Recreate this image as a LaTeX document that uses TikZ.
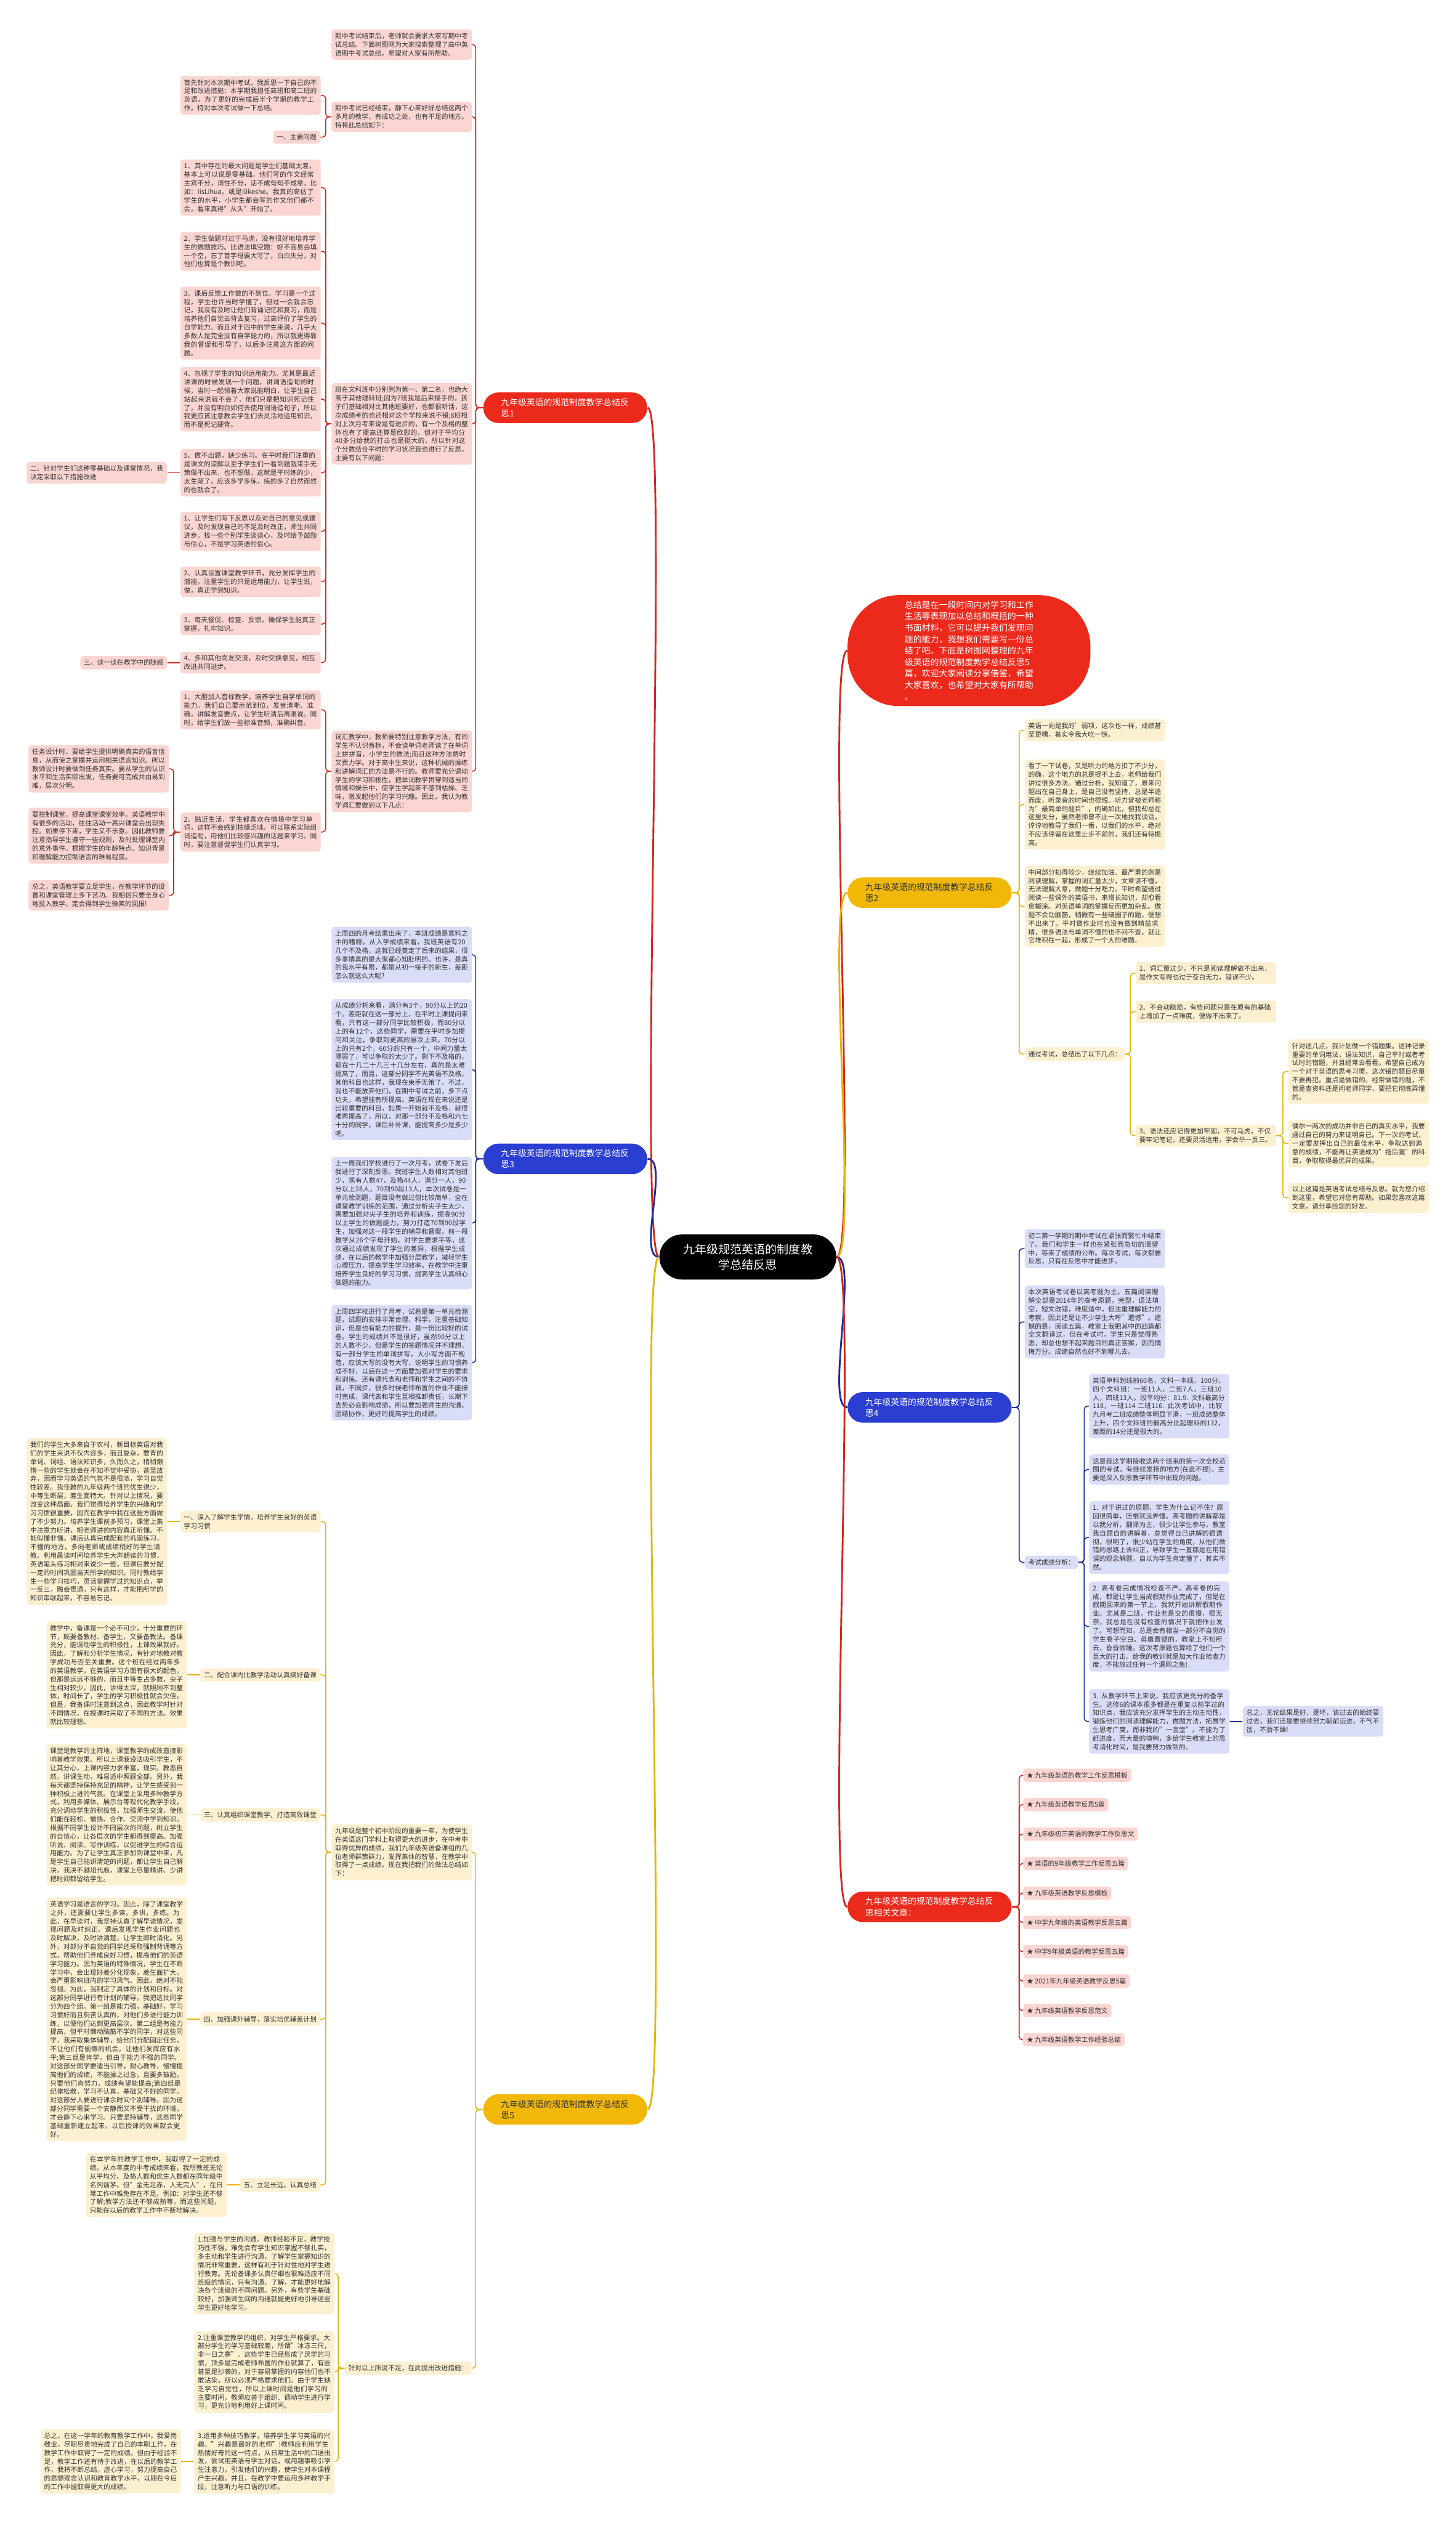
\documentclass[tikz,border=0pt]{standalone}
\usepackage{fontspec}
\setmainfont{Noto Sans CJK SC}
\XeTeXlinebreaklocale "zh"
\XeTeXlinebreakskip=0pt plus 0.6pt
\newcommand\zbox{\fontsize{4.12pt}{5.3pt}\selectfont}
\newcommand\zbr{\fontsize{5.3pt}{6.9pt}\selectfont}
\newcommand\zcen{\fontsize{7.3pt}{9.6pt}\selectfont}
\newcommand\zintro{\fontsize{5.33pt}{7.13pt}\selectfont}
\definecolor{pkf}{HTML}{FAD5D2}
\definecolor{rln}{HTML}{D0281C}
\definecolor{redf}{HTML}{EC2A1C}
\definecolor{ywf}{HTML}{FCF0D1}
\definecolor{yln}{HTML}{E8B40C}
\definecolor{yelf}{HTML}{F2B807}
\definecolor{blf}{HTML}{DADDF8}
\definecolor{bln}{HTML}{1E2C9C}
\definecolor{bluef}{HTML}{2A3ED2}
\definecolor{txtc}{HTML}{333333}
\tikzset{
  bx/.style={inner xsep=2.2pt, inner ysep=2.2pt, rounded corners=1.8pt, font=\zbox, text=txtc, align=left},
  wd/.style={text width=82.8pt},
  pk/.style={bx, fill=pkf},
  yw/.style={bx, fill=ywf},
  bl/.style={bx, fill=blf},
  br/.style={rounded corners=9.5pt, minimum height=19pt, text width=80pt, inner xsep=11pt, inner ysep=2.5pt, font=\zbr, align=left},
  cen/.style={fill=black, text=white, rounded corners=14pt, minimum width=110pt, minimum height=28pt, inner ysep=2pt, font=\zcen, align=center},
  intro/.style={fill=redf, text=white, rounded corners=32pt, minimum width=151pt, minimum height=69pt, font=\zintro, align=left},
  lr/.style={draw=rln, line width=0.6pt, rounded corners=2pt},
  ly/.style={draw=yln, line width=0.6pt, rounded corners=2pt},
  lb/.style={draw=bln, line width=0.6pt, rounded corners=2pt},
  mr/.style={draw=rln, line width=1.1pt},
  my/.style={draw=yln, line width=1.1pt},
  mb/.style={draw=bln, line width=1.1pt}
}
\begin{document}
\begin{tikzpicture}[x=1pt,y=-1pt]
\fill[white] (0,0) rectangle (905,1568.6);
\useasboundingbox (0,0) rectangle (905,1568.6);

% ---------------- centre and main branches
\node[cen] (C) at (465,781.5) {\zcen 九年级规范英语的制度教\\\zcen 学总结反思};
\node[intro] (I) at (602.5,404.5) {\zintro 总结是在一段时间内对学习和工作\\生活等表现加以总结和概括的一种\\书面材料，它可以提升我们发现问\\题的能力，我想我们需要写一份总\\结了吧。下面是树图网整理的九年\\级英语的规范制度教学总结反思5\\篇，欢迎大家阅读分享借鉴，希望\\大家喜欢，也希望对大家有所帮助\\。};
\node[br, fill=redf, text=white] (B1) at (351.5,253.5) {九年级英语的规范制度教学总结反\\思1};
\node[br, fill=yelf, text=txtc] (B2) at (578,555) {九年级英语的规范制度教学总结反\\思2};
\node[br, fill=bluef, text=white] (B3) at (351.5,720.5) {九年级英语的规范制度教学总结反\\思3};
\node[br, fill=bluef, text=white] (B4) at (578,875) {九年级英语的规范制度教学总结反\\思4};
\node[br, fill=redf, text=white] (B5) at (578,1185.5) {九年级英语的规范制度教学总结反\\思相关文章：};
\node[br, fill=yelf, text=txtc] (B6) at (351.5,1311.5) {九年级英语的规范制度教学总结反\\思5};

\draw[mr] (C.west) .. controls +(-14,0) and +(14,0) .. (B1.east);
\draw[mb] (C.west) .. controls +(-14,0) and +(14,0) .. (B3.east);
\draw[my] (C.west) .. controls +(-14,0) and +(14,0) .. (B6.east);
\draw[mr] (C.east) .. controls +(14,0) and +(-14,0) .. (I.west);
\draw[my] (C.east) .. controls +(14,0) and +(-14,0) .. (B2.west);
\draw[mb] (C.east) .. controls +(14,0) and +(-14,0) .. (B4.west);
\draw[mr] (C.east) .. controls +(14,0) and +(-14,0) .. (B5.west);

% ---------------- branch 1
\node[pk,wd,anchor=north west] (c1) at (206,18) {期中考试结束后，老师就会要求大家写期中考试总结。下面树图网为大家搜索整理了高中英语期中考试总结，希望对大家有所帮助。};
\node[pk,wd,anchor=north west] (c2) at (206,63) {期中考试已经结束，静下心来好好总结这两个多月的教学，有成功之处，也有不足的地方。特将此总结如下：};
\node[pk,wd,anchor=north west] (c3) at (206,238) {班在文科班中分别列为第一、第二名，也绝大高于其他理科班;因为7班我是后来接手的，孩子们基础相对比其他班要好，也都很听话，这次成绩考的也还相对这个学校来说不错;8班相对上次月考来说是有进步的，有一个及格的整体也有了提高还算是欣慰的。但对于平均分40多分给我的打击也是挺大的，所以针对这个分数结合平时的学习状况我也进行了反思，主要有以下问题：};
\node[pk,wd,anchor=north west] (c4) at (206,454) {词汇教学中，教师要特别注意教学方法，有的学生不认识音标，不会读单词老师读了在单词上拼拼音，小学生的做法;而且这种方法费时又费力学。对于高中生来说，这种机械的操练和讲解词汇的方法是不行的。教师要充分调动学生的学习积极性，把单词教学贯穿到适当的情境和娱乐中，使学生学起来不感到枯燥、乏味，激发起他们的学习兴趣。因此，我认为教学词汇要做到以下几点：};
\node[pk,wd,anchor=north west] (c2a) at (112,47) {首先针对本次期中考试，我反思一下自己的不足和改进措施：本学期我担任高班和高二班的英语，为了更好的完成后半个学期的教学工作，特对本次考试做一下总结。};
\node[pk,anchor=north east] (c2b) at (199.2,81) {一、主要问题};
\node[pk,wd,anchor=north west] (i1) at (112,99) {1、其中存在的最大问题是学生们基础太差，基本上可以说是零基础。他们写的作文经常主宾不分，词性不分，话不成句句不成章，比如：IisLihua。或是Ilikeshe。我真的高估了学生的水平，小学生都会写的作文他们都不会，看来真得"从头"开始了。};
\node[pk,wd,anchor=north west] (i2) at (112,144) {2、学生做题时过于马虎，没有很好地培养学生的做题技巧。比语法填空题：好不容易会填一个空，忘了首字母要大写了，白白失分，对他们也算是个教训吧。};
\node[pk,wd,anchor=north west] (i3) at (112,178) {3、课后反馈工作做的不到位。学习是一个过程，学生也许当时学懂了，但过一会就会忘记，我没有及时让他们背诵记忆和复习，而是培养他们自觉去背去复习，过高评价了学生的自学能力。而且对于四中的学生来说，几乎大多数人是完全没有自学能力的，所以就更得靠我的督促和引导了，以后多注意这方面的问题。};
\node[pk,wd,anchor=north west] (i4) at (112,228) {4、忽视了学生的知识运用能力。尤其是最近讲课的时候发现一个问题，讲词语造句的时候，当时一起领着大家说能明白，让学生自己站起来说就不会了，他们只是把知识死记住了，并没有明白如何去使用词语造句子，所以我更应该注意教会学生们去灵活地运用知识，而不是死记硬背。};
\node[pk,wd,anchor=north west] (i5) at (112,279) {5、做不出题，缺少练习。在平时我们注重的是课文的谅解以至于学生们一看到题就束手无策做不出来，也不想做，这就是平时练的少，太生疏了，应该多学多练，练的多了自然而然的也就会了。};
\node[pk,wd,anchor=north west] (m1) at (112,318) {1、让学生们写下反思以及对自己的意见或建议，及时发现自己的不足及时改正，师生共同进步。找一些个别学生谈谈心，及时给予鼓励与信心，不是学习英语的信心。};
\node[pk,wd,anchor=north west] (m2) at (112,352) {2、认真设置课堂教学环节，充分发挥学生的潜能。注重学生的只是运用能力，让学生说，做，真正学到知识。};
\node[pk,wd,anchor=north west] (m3) at (112,381) {3、每天督促、检查、反馈。确保学生能真正掌握，扎牢知识。};
\node[pk,wd,anchor=north west] (m4) at (112,405) {4、多和其他岗友交流，及时交换意见，相互改进共同进步。};
\node[pk,wd,anchor=east] (er) at ([xshift=-8pt]i5.west) {二、针对学生们这种零基础以及课堂情况，我决定采取以下措施改进};
\node[pk,anchor=east] (san) at ([xshift=-8pt]m4.west) {三、谈一谈在教学中的随感};
\node[pk,wd,anchor=north west] (v1) at (112,429) {1、大胆加入音标教学，培养学生自学单词的能力。我们自己要示范到位，发音清晰、准确，讲解发音要点，让学生听清后再跟说。同时，给学生们放一些标准音频，准确纠音。};
\node[pk,wd,anchor=north west] (v2) at (112,505) {2、贴近生活，学生都喜欢在情境中学习单词，这样不会感到枯燥乏味。可以联系实际组词造句，用他们比较感兴趣的话题来学习。同时，要注意督促学生们认真学习。};
\node[pk,wd,anchor=north west] (t1) at (17.6,463) {任务设计时，要给学生提供明确真实的语言信息，从而使之掌握并运用相关语言知识。所以教师设计时要做到任务真实。要从学生的认识水平和生活实际出发，任务要可完成并由易到难，层次分明。};
\node[pk,wd,anchor=north west] (t2) at (17.6,502) {要控制课堂，提高课堂课堂效率。英语教学中有很多的活动，往往活动一高兴课堂会出现失控。如果停下来，学生又不乐意。因此教师要注意指导学生遵守一些规则，及时处理课堂内的意外事件。根据学生的年龄特点、知识背景和理解能力控制语言的难易程度。};
\node[pk,wd,anchor=north west] (t3) at (17.6,547) {总之，英语教学要立足学生，在教学环节的设置和课堂管理上多下苦功。我相信只要全身心地投入教学，定会得到学生微笑的回报!};

\foreach \n in {c1,c2,c3,c4} \draw[lr] (B1.west) -- ++(-4.5,0) |- (\n.east);
\foreach \n in {c2a,c2b} \draw[lr] (c2.west) -- ++(-3.5,0) |- (\n.east);
\foreach \n in {i1,i2,i3,i4,i5,m1,m2,m3,m4} \draw[lr] (c3.west) -- ++(-3.5,0) |- (\n.east);
\draw[lr] (i5.west) -- (er.east);
\draw[lr] (m4.west) -- (san.east);
\foreach \n in {v1,v2} \draw[lr] (c4.west) -- ++(-3.5,0) |- (\n.east);
\foreach \n in {t1,t2,t3} \draw[lr] (v2.west) -- ++(-4,0) |- (\n.east);

% ---------------- branch 2
\node[yw,wd,anchor=north west] (d1) at (637,447) {英语一向是我的'弱项，这次也一样，成绩甚至更糟，着实令我大吃一惊。};
\node[yw,wd,anchor=north west] (d2) at (637,472) {看了一下试卷，又是听力的地方扣了不少分，的确，这个地方的总是提不上去，老师给我们讲过很多方法。通过分析，我知道了，原来问题出在自己身上，是自己没有坚持，总是半途而废，听录音的时间也很短。听力曾被老师称为"最简单的题目"，的确如此，但我却总在这里失分，虽然老师曾不止一次地找我谈话，谆谆地教导了我们一番，以我们的水平，绝对不应该停留在这里止步不前的，我们还有待提高。};
\node[yw,wd,anchor=north west] (d3) at (637,538) {中间部分扣得较少，继续加油。最严重的则是阅读理解，掌握的词汇量太少，文章读不懂，无法理解大意，做题十分吃力。平时希望通过阅读一些课外的英语书，来增长知识，却愈看愈糊涂。对英语单词的掌握反而更加杂乱。做题不会动脑筋，稍微有一些绕圈子的题，便想不出来了。平时做作业时也没有做到精益求精，很多语法与单词不懂的也不问不查，就让它堆积在一起，形成了一个大的难题。};
\node[yw,anchor=north west] (d4) at (637,651) {通过考试，总结出了以下几点：};
\node[yw,wd,anchor=north west] (e1) at (706,598) {1、词汇量过少，不只是阅读理解做不出来，是作文写得也过于苍白无力，错误不少。};
\node[yw,wd,anchor=north west] (e2) at (706,622) {2、不会动脑筋，有些问题只是在原有的基础上增加了一点难度，便做不出来了。};
\node[yw,wd,anchor=north west] (e3) at (706,699) {3、语法还应记得更加牢固，不可马虎，不仅要牢记笔记，还要灵活运用，学会举一反三。};
\node[yw,wd,anchor=north west] (f1) at (801,646) {针对这几点，我计划做一个错题集。这种记录重要的单词用法，语法知识，自己平时或者考试时的错题，并且经常去看看。希望自己成为一个对于英语的思考习惯，这次错的题目尽量不要再犯。重点是做错的。经常做错的题，不管是查资料还是问老师同学，要把它彻底弄懂的。};
\node[yw,wd,anchor=north west] (f2) at (801,696) {偶尔一两次的成功并非自己的真实水平，我要通过自己的努力来证明自己。下一次的考试，一定要发挥出自己的最佳水平，争取达到满意的成绩，不能再让英语成为"拖后腿"的科目，争取取得最优异的成果。};
\node[yw,wd,anchor=north west] (f3) at (801,735) {以上这篇是英语考试总结与反思。就为您介绍到这里，希望它对您有帮助。如果您喜欢这篇文章，请分享给您的好友。};

\foreach \n in {d1,d2,d3,d4} \draw[ly] (B2.east) -- ++(4.5,0) |- (\n.west);
\foreach \n in {e1,e2,e3} \draw[ly] (d4.east) -- ++(3.4,0) |- (\n.west);
\foreach \n in {f1,f2,f3} \draw[ly] (e3.east) -- ++(4,0) |- (\n.west);

% ---------------- branch 3
\node[bl,wd,anchor=north west] (g1) at (206,576) {上周四的月考结果出来了，本班成绩是意料之中的糟糕，从入学成绩来看，我班英语有20几个不及格，这就已经奠定了后来的结果，很多事情真的是大家都心知肚明的。也许，是真的我水平有限，都是从初一接手的新生，差距怎么就这么大呢?};
\node[bl,wd,anchor=north west] (g2) at (206,621) {从成绩分析来看，满分有3个，90分以上的20个。差距就在这一部分上，在平时上课提问来看，只有这一部分同学比较积极，而80分以上的有12个，这些同学，需要在平时多加提问和关注，争取到更高的层次上来。70分以上的只有2个，60分的只有一个，中间力量太薄弱了，可以争取的太少了。剩下不及格的，都在十几二十几三十几分左右，真的是太难提高了，而且，这部分同学不光英语不及格，其他科目也这样，我现在束手无策了。不过，我也不能放弃他们，在期中考试之前，多下点功夫，希望能有所提高。英语在现在来说还是比较重要的科目，如果一开始就不及格，就很难再提高了，所以，对那一部分不及格和六七十分的同学，课后补补课，能提高多少是多少吧。};
\node[bl,wd,anchor=north west] (g3) at (206,719) {上一周我们学校进行了一次月考，试卷下发后我进行了深刻反思。我班学生人数相对其他班少，现有人数47，及格44人，满分一人，90分以上28人，70到90段13人，本次试卷是一单元检测题，题目没有做过但比较简单，全在课堂教学训练的范围，通过分析尖子生太少，需要加强对尖子生的培养和训练，提高90分以上学生的做题能力，努力打造70到90段学生，加强对这一段学生的辅导和督促。前一段教学从26个字母开始，对学生要求平等，这次通过成绩发现了学生的差异，根据学生成绩，在以后的教学中加强分层教学，减轻学生心理压力，提高学生学习效率。在教学中注重培养学生良好的学习习惯，提高学生认真细心做题的能力。};
\node[bl,wd,anchor=north west] (g4) at (206,811) {上周四学校进行了月考，试卷是第一单元检测题，试题的安排非常合理、科学，注重基础知识，但是也有能力的提升，是一份比较好的试卷。学生的成绩并不是很好，虽然90分以上的人数不少，但是学生的答题情况并不理想，有一部分学生的单词拼写，大小写方面不规范，应该大写的没有大写，说明学生的习惯养成不好，以后在这一方面要加强对学生的要求和训练。还有课代表和老师和学生之间的不协调，不同步，很多时候老师布置的作业不能按时完成，课代表和学生互相推卸责任，长期下去势必会影响成绩，所以要加强师生的沟通，团结协作，更好的提高学生的成绩。};

\foreach \n in {g1,g2,g3,g4} \draw[lb] (B3.west) -- ++(-4.5,0) |- (\n.east);

% ---------------- branch 4
\node[bl,wd,anchor=north west] (h1) at (637,764) {初二第一学期的期中考试在紧张而繁忙中结束了。我们和学生一样也在紧张而急切的渴望中，等来了成绩的公布。每次考试，每次都要反思，只有在反思中才能进步。};
\node[bl,wd,anchor=north west] (h2) at (637,799) {本次英语考试卷以高考题为主，五篇阅读理解全部是2014年的高考原题，完型，语法填空，短文改错，难度适中，但注重理解能力的考察，因此还是让不少学生大呼"遗憾"。遗憾的是，阅读五篇，教室上我把其中的四篇都全文翻译过，但在考试时，学生只是觉得熟悉，却总也想不起来题目的真正答案，因而懊悔万分。成绩自然也好不到哪儿去。};
\node[bl,anchor=north west] (h3) at (637,967) {考试成绩分析：};
\node[bl,wd,anchor=north west] (k1) at (677,854) {英语单科划线前60名，文科一本线，100分。四个文科班：一班11人，二班7人，三班10人，四班13人。段平均分：81.9. 文科最高分118，一班114 二班116. 此次考试中，比较九月考二班成绩整体明显下滑，一班成绩整体上升，四个文科班的最高分比起理科的132，差距的14分还是很大的。};
\node[bl,wd,anchor=north west] (k2) at (677,904) {这是我这学期接收这两个班来的第一次全校范围的考试，有继续发扬的地方(在此不提)，主要是深入反思教学环节中出现的问题。};
\node[bl,wd,anchor=north west] (k3) at (677,933) {1. 对于讲过的原题，学生为什么记不住? 原因很简单，压根就没弄懂。高考题的讲解都是以我分析，翻译为主，很少让学生参与，教室我自顾自的讲解着，总觉得自己讲解的很透彻，很明了，很少站在学生的角度，从他们做错的思路上去纠正，导致学生一直都是在用错误的观念解题，自以为学生肯定懂了，其实不然。};
\node[bl,wd,anchor=north west] (k4) at (677,983) {2. 高考卷完成情况检查不严。高考卷的完成，都是让学生当成假期作业完成了，但是在假期回来的第一节上，我就开始讲解假期作业。尤其是二班，作业老是交的很慢，很无奈，我总是在没有检查的情况下就把作业发了。可想而知，总是会有相当一部分不自觉的学生卷子空白。毋庸置疑的，教室上不知所云，昏昏欲睡。这次考原题也算给了他们一个巨大的打击。给我的教训就是加大作业检查力度，不能放过任何一个漏网之鱼!};
\node[bl,wd,anchor=north west] (k5) at (677,1050) {3. 从教学环节上来说，我应该更充分的备学生。选修6的课本很多都是在重复以前学过的知识点，我应该充分发挥学生的主动主动性，锻炼他们的阅读理解能力，做题方法，拓展学生思考广度，而非我的"一言堂"。不能为了赶进度，而大量的填鸭，多给学生教室上的思考消化时间，是我要努力做到的。};
\node[bl,wd,anchor=west] (kz) at ([xshift=8pt]k5.east) {总之，无论结果是好，是坏，该过去的始终要过去，我们还是要继续努力朝前迈进，不气不馁，不骄不躁!};

\foreach \n in {h1,h2,h3} \draw[lb] (B4.east) -- ++(4.5,0) |- (\n.west);
\foreach \n in {k1,k2,k3,k4,k5} \draw[lb] (h3.east) -- ++(3.5,0) |- (\n.west);
\draw[lb] (k5.east) -- (kz.west);

% ---------------- branch 5 (related articles)
\node[pk,anchor=west] (L1) at (636,1103.7) {★ 九年级英语的教学工作反思模板};
\node[pk,anchor=west] (L2) at (636,1122) {★ 九年级英语教学反思5篇};
\node[pk,anchor=west] (L3) at (636,1140.3) {★ 九年级初三英语的教学工作反思文};
\node[pk,anchor=west] (L4) at (636,1158.6) {★ 英语的9年级教学工作反思五篇};
\node[pk,anchor=west] (L5) at (636,1177) {★ 九年级英语教学反思模板};
\node[pk,anchor=west] (L6) at (636,1195.2) {★ 中学九年级的英语教学反思五篇};
\node[pk,anchor=west] (L7) at (636,1213.4) {★ 中学9年级英语的教学反思五篇};
\node[pk,anchor=west] (L8) at (636,1231.6) {★ 2021年九年级英语教学反思5篇};
\node[pk,anchor=west] (L9) at (636,1250) {★ 九年级英语教学反思范文};
\node[pk,anchor=west] (L10) at (636,1268.2) {★ 九年级英语教学工作经验总结};

\foreach \n in {L1,L2,L3,L4,L5,L6,L7,L8,L9,L10} \draw[lr] (B5.east) -- ++(4.5,0) |- (\n.west);

% ---------------- branch 6
\node[yw,wd,anchor=north west] (n1) at (206,1134) {九年级是整个初中阶段的重要一年，为使学生在英语这门学科上取得更大的进步，在中考中取得优异的成绩，我们九年级英语备课组的几位老师群策群力，发挥集体的智慧，在教学中取得了一点成绩。现在我把我们的做法总结如下：};
\node[yw,anchor=north east] (n2) at (293.2,1468) {针对以上所说不足，在此提出改进措施：};
\node[yw,wd,anchor=north west] (o1) at (112,939) {一、深入了解学生学情，培养学生良好的英语学习习惯};
\node[yw,anchor=north east] (o2) at (199.2,1037) {二、配合课内比教学活动认真搞好备课};
\node[yw,anchor=north east] (o3) at (199.2,1124) {三、认真组织课堂教学，打造高效课堂};
\node[yw,anchor=north east] (o4) at (199.2,1251) {四、加强课外辅导，落实培优辅差计划};
\node[yw,anchor=north east] (o5) at (199.2,1354) {五、立足长远，认真总结};
\node[yw,wd,anchor=east] (p1) at ([xshift=-8pt]o1.west) {我们的学生大多来自于农村，新目标英语对我们的学生来说不仅内容多，而且复杂，要背的单词、词组、语法知识多，久而久之，稍稍懒惰一些的学生就会在不知不觉中妥协，甚至放弃，因而学习英语的气氛不是很浓，学习自觉性较差。我任教的九年级两个班的优生很少，中等生断层，差生面特大。针对以上情况，要改变这种局面，我们觉得培养学生的兴趣和学习习惯很重要，因而在教学中我在这些方面做了不少努力。培养学生课前多预习，课堂上集中注意力听讲，把老师讲的内容真正听懂。不能似懂非懂。课后认真完成配套的巩固练习，不懂的地方，多向老师或成绩稍好的学生请教。利用晨读时间培养学生大声朗读的习惯，英语笔头练习相对来说少一些，但课后要分配一定的时间巩固当天所学的知识。同时教给学生一些学习技巧，灵活掌握学过的知识点，举一反三，融会贯通，只有这样，才能把所学的知识串联起来，不容易忘记。};
\node[yw,wd,anchor=east] (p2) at ([xshift=-8pt]o2.west) {教学中，备课是一个必不可少，十分重要的环节，既要备教材、备学生，又要备教法。备课充分，能调动学生的积极性，上课效果就好。因此，了解和分析学生情况，有针对地教对教学成功与否至关重要。这个班在经过两年多的英语教学，在英语学习方面有很大的起色，但那是远远不够的，而且中等生占多数，尖子生相对较少。因此，讲得太深，就照顾不到整体，时间长了，学生的学习积极性就会欠佳。但是，我备课时注意到这点，因此教学时针对不同情况，在授课时采取了不同的方法。效果就比较理想。};
\node[yw,wd,anchor=east] (p3) at ([xshift=-8pt]o3.west) {课堂是教学的主阵地，课堂教学的成败直接影响着教学效果。所以上课我设法吸引学生，不让其分心，上课内容力求丰富，现实。教态自然，讲课生动，难易适中照顾全部。另外，我每天都坚持保持充足的精神，让学生感受到一种积极上进的气氛。在课堂上采用多种教学方式，利用多媒体、展示台等现代化教学手段，充分调动学生的积极性，加强师生交流，使他们能在轻松、愉快、合作、交流中学到知识。根据不同学生设计不同层次的问题，树立学生的自信心，让各层次的学生都得到提高。加强听说、阅读、写作训练，以促进学生的综合运用能力。为了让学生真正参加到课堂中来，凡是学生自己能讲清楚的问题，都让学生自己解决，我决不越俎代庖，课堂上尽量精讲、少讲把时间都留给学生。};
\node[yw,wd,anchor=east] (p4) at ([xshift=-8pt]o4.west) {英语学习是语言的学习。因此，除了课堂教学之外，还需要让学生多读，多讲，多练。为此，在早读时，我坚持认真了解早读情况，发现问题及时纠正。课后发现学生作业问题也及时解决，及时讲清楚，让学生即时消化。另外，对部分不自觉的同学还采取强制背诵等方式，帮助他们养成良好习惯，提高他们的英语学习能力。因为英语的特殊情况，学生在不断学习中，会出现好差分化现象，差生面扩大，会严重影响班内的学习风气。因此，绝对不能忽视。为此，我制定了具体的计划和目标。对这部分同学进行有计划的辅导。我把这批同学分为四个组。第一组是能力强，基础好，学习习惯好而且刻苦认真的，对他们多进行能力训练，以便他们达到更高层次。第二组是有能力提高，但平时懒动脑筋不学的同学，对这些同学，我采取集体辅导，给他们分配固定任务，不让他们有偷懒的机会，让他们发挥应有水平;第三组是肯学，但由于能力不强的同学。对这部分同学要适当引导，耐心教导，慢慢提高他们的成绩，不能操之过急，且要多鼓励。只要他们肯努力，成绩有望能提高;第四组是纪律松散，学习不认真，基础又不好的同学。对这部分人要进行课余时间个别辅导。因为这部分同学需要一个安静而又不受干扰的环境，才会静下心来学习。只要坚持辅导，这些同学基础重新建立起来，以后授课的效果就会更好。};
\node[yw,wd,anchor=east] (p5) at ([xshift=-8pt]o5.west) {在本学年的教学工作中，我取得了一定的成绩。从本年度的中考成绩来看，我所教班无论从平均分、及格人数和优生人数都在同年级中名列前茅。但"金无足赤，人无完人"，在日常工作中难免存在不足。例如：对学生还不够了解;教学方法还不够成熟等，而这些问题，只能在以后的教学工作中不断地解决。};
\node[yw,wd,anchor=north west] (q1) at (120.6,1388) {1.加强与学生的沟通。教师经验不足，教学技巧性不强，难免会有学生知识掌握不够扎实，多主动和学生进行沟通，了解学生掌握知识的情况非常重要，这样有利于针对性地对学生进行教育。无论备课多认真仔细也很难适应不同班级的情况，只有沟通、了解，才能更好地解决各个班级的不同问题。另外，有些学生基础较好，加强师生间的沟通就能更好地引导这些学生更好地学习。};
\node[yw,wd,anchor=north west] (q2) at (120.6,1449) {2.注重课堂教学的组织，对学生严格要求。大部分学生的学习基础较差，所谓"冰冻三尺，非一日之寒"。这些学生已经形成了厌学的习惯，顶多是完成老师布置的作业就算了，有些甚至是抄袭的，对于容易掌握的内容他们也不敢沾染，所以必须严格要求他们。由于学生缺乏学习自觉性，所以上课时间是他们学习的主要时间，教师应善于组织、调动学生进行学习，更充分地利用好上课时间。};
\node[yw,wd,anchor=north west] (q3) at (120.6,1510) {3.运用多种技巧教学，培养学生学习英语的兴趣。"兴趣是最好的老师"!教师应利用学生热情好奇的这一特点，从日常生活中的口语出发，尝试用英语与学生对话，或用趣事吸引学生注意力，引发他们的兴趣，使学生对本课程产生兴趣。并且，在教学中要运用多种教学手段，注意听力与口语的训练。};
\node[yw,wd,anchor=east] (qz) at ([xshift=-8pt]q3.west) {总之，在这一学年的教育教学工作中，我爱岗敬业，尽职尽责地完成了自己的本职工作，在教学工作中取得了一定的成绩。但由于经验不足，教学工作还有待于改进，在以后的教学工作，我将不断总结，虚心学习，努力提高自己的思想观念认识和教育教学水平，以期在今后的工作中能取得更大的成绩。};

\foreach \n in {n1,n2} \draw[ly] (B6.west) -- ++(-4.5,0) |- (\n.east);
\foreach \n in {o1,o2,o3,o4,o5} \draw[ly] (n1.west) -- ++(-3.5,0) |- (\n.east);
\draw[ly] (o1.west) -- (p1.east);
\draw[ly] (o2.west) -- (p2.east);
\draw[ly] (o3.west) -- (p3.east);
\draw[ly] (o4.west) -- (p4.east);
\draw[ly] (o5.west) -- (p5.east);
\foreach \n in {q1,q2,q3} \draw[ly] (n2.west) -- ++(-3.9,0) |- (\n.east);
\draw[ly] (q3.west) -- (qz.east);
\end{tikzpicture}
\end{document}
